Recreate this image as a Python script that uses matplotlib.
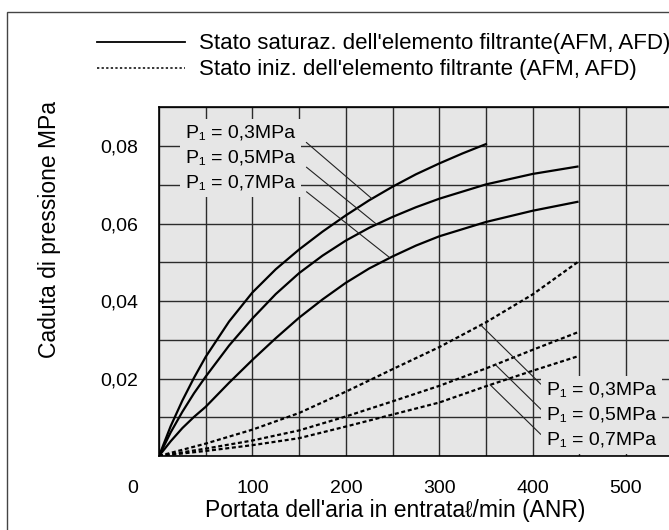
import matplotlib
matplotlib.use('Agg')
import matplotlib.pyplot as plt
from matplotlib.patches import Rectangle
from matplotlib.ticker import MultipleLocator

plt.rcParams['font.family'] = ['Liberation Sans', 'DejaVu Sans']

# portata (l/min) e caduta di pressione (MPa), letti dal grafico
# stato saturazione (linee continue)
sat_x_03 = [0, 12.5, 25, 37.5, 50, 75, 100, 125, 150, 175, 200, 225, 250, 275, 300, 325, 350]
sat_y_03 = [0, 0.0077, 0.0143, 0.0202, 0.0256, 0.0347, 0.0422, 0.0482, 0.0533, 0.0579,
            0.0621, 0.0660, 0.0695, 0.0727, 0.0755, 0.0781, 0.0805]
sat_x_05 = [0, 12.5, 25, 37.5, 50, 75, 100, 125, 150, 175, 200, 225, 250, 275, 300, 350,
            400, 448]
sat_y_05 = [0, 0.0061, 0.0114, 0.0162, 0.0205, 0.0285, 0.0355, 0.0418, 0.0472, 0.0517,
            0.0556, 0.0589, 0.0617, 0.0642, 0.0664, 0.0701, 0.0728, 0.0747]
sat_x_07 = [0, 12.5, 25, 37.5, 50, 75, 100, 125, 150, 175, 200, 225, 250, 275, 300, 350,
            400, 448]
sat_y_07 = [0, 0.0038, 0.0072, 0.0101, 0.0127, 0.0189, 0.0248, 0.0304, 0.0357, 0.0404,
            0.0447, 0.0484, 0.0515, 0.0543, 0.0567, 0.0604, 0.0633, 0.0656]

# stato iniziale (linee tratteggiate)
ini_x = [0, 50, 100, 150, 200, 250, 300, 350, 400, 448]
ini_y_03 = [0, 0.0032, 0.0068, 0.0111, 0.0166, 0.0224, 0.0281, 0.0345, 0.0417, 0.0500]
ini_y_05 = [0, 0.0019, 0.0040, 0.0066, 0.0102, 0.0141, 0.0181, 0.0226, 0.0274, 0.0319]
ini_y_07 = [0, 0.0013, 0.0028, 0.0046, 0.0076, 0.0107, 0.0138, 0.0180, 0.0220, 0.0257]

p_labels = ['P\u2081 = 0,3MPa', 'P\u2081 = 0,5MPa', 'P\u2081 = 0,7MPa']
# punti delle curve dove arrivano le linee di richiamo
sat_leader_x = [228, 233, 247]
sat_leader_y = [0.0664, 0.0598, 0.0512]
ini_leader_x = [344.4, 360, 354.4]
ini_leader_y = [0.0338, 0.0236, 0.0184]

xtick_vals = [100, 200, 300, 400, 500]
ytick_vals = [0.02, 0.04, 0.06, 0.08]

bg = '#e6e6e6'

fig = plt.figure(figsize=(6.69, 5.30), dpi=100)
W, H = 669.0, 530.0

# cornice esterna
fig.add_artist(Rectangle((7 / W, -0.1), 1.0, 1.1 - 12.3 / H, transform=fig.transFigure,
                         fill=False, lw=1.0, ec='#444444'))

# legenda
fig.add_artist(plt.Line2D([97 / W, 185 / W], [1 - 42 / H, 1 - 42 / H], color='black', lw=1.3))
fig.add_artist(plt.Line2D([97 / W, 185 / W], [1 - 68 / H, 1 - 68 / H], color='black', lw=1.1,
                          linestyle=(0, (1.5, 1.5))))
fig.text(199 / W, 1 - 43 / H, "Stato saturaz. dell'elemento filtrante(AFM, AFD)",
         fontsize=16, va='center', ha='left')
fig.text(199 / W, 1 - 69 / H, "Stato iniz. dell'elemento filtrante (AFM, AFD)",
         fontsize=16, va='center', ha='left')

ax = fig.add_axes([159 / W, 1 - 456 / H, 1 - 159 / W, (456 - 107.3) / H])
ax.set_facecolor(bg)
ax.set_xlim(0, 546)
ax.set_ylim(0, 0.09)

ax.xaxis.set_minor_locator(MultipleLocator(50))
ax.yaxis.set_minor_locator(MultipleLocator(0.01))
ax.set_xticks(xtick_vals)
ax.set_xticklabels([str(v) for v in xtick_vals])
ax.set_yticks(ytick_vals)
ax.set_yticklabels([('%.2f' % v).replace('.', ',') for v in ytick_vals])
ax.tick_params(which='both', length=0)
ax.tick_params(axis='x', pad=17, labelsize=14)
ax.tick_params(axis='y', pad=15, labelsize=14)
ax.grid(which='both', color='#2b2b2b', lw=1.0)
ax.text(-0.052, -0.068, '0', transform=ax.transAxes, fontsize=14, ha='center', va='top')

for s in ['left', 'top', 'bottom']:
    ax.spines[s].set_linewidth(1.2)
    ax.spines[s].set_zorder(5)
ax.spines['right'].set_visible(False)

ax.plot(sat_x_03, sat_y_03, color='black', lw=1.6)
ax.plot(sat_x_05, sat_y_05, color='black', lw=1.6)
ax.plot(sat_x_07, sat_y_07, color='black', lw=1.6)
dash = (0, (1.8, 1.2))
ax.plot(ini_x, ini_y_03, color='black', lw=1.6, linestyle=dash)
ax.plot(ini_x, ini_y_05, color='black', lw=1.6, linestyle=dash)
ax.plot(ini_x, ini_y_07, color='black', lw=1.6, linestyle=dash)

# etichette con linee di richiamo
up_rows = [0.0834, 0.0769, 0.0705]
lo_rows = [0.01705, 0.0106, 0.0041]
for i in range(3):
    ax.annotate(p_labels[i], xy=(sat_leader_x[i], sat_leader_y[i]), xytext=(29, up_rows[i]),
                fontsize=14, ha='left', va='center', zorder=4,
                bbox=dict(boxstyle='square,pad=0.3', fc=bg, ec='none'),
                arrowprops=dict(arrowstyle='-', lw=0.8, color='#222222', relpos=(1, 0.5),
                                shrinkA=5, shrinkB=0))
    ax.annotate(p_labels[i], xy=(ini_leader_x[i], ini_leader_y[i]), xytext=(415, lo_rows[i]),
                fontsize=14, ha='left', va='center', zorder=4,
                bbox=dict(boxstyle='square,pad=0.3', fc=bg, ec='none'),
                arrowprops=dict(arrowstyle='-', lw=0.8, color='#222222', relpos=(0, 0.5),
                                shrinkA=0, shrinkB=0))

fig.text(50 / W, 1 - 230 / H, 'Caduta di pressione MPa', rotation=90, fontsize=16.5,
         ha='center', va='center')
fig.text(395 / W, 1 - 510 / H, "Portata dell'aria in entrata\u2113/min (ANR)", fontsize=16.5,
         ha='center', va='center')

fig.savefig('out.png', dpi=100)
